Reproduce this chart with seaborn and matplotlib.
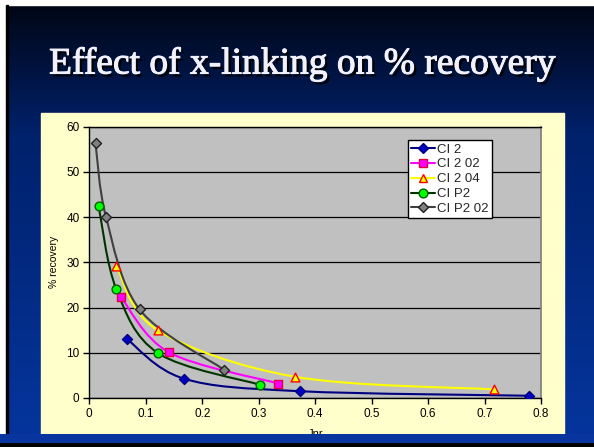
import numpy as np
import pandas as pd
import matplotlib
matplotlib.use("Agg")
import matplotlib.pyplot as plt
import matplotlib.patheffects as pe
from matplotlib.path import Path
from matplotlib.patches import PathPatch, Rectangle
from matplotlib.lines import Line2D
import seaborn as sns

# ---- data ----
series_names = ["CI 2", "CI 2 02", "CI 2 04", "CI P2", "CI P2 02"]
ci2_x = [0.066, 0.167, 0.373, 0.778]
ci2_y = [13.1, 4.3, 1.5, 0.5]
ci202_x = [0.056, 0.141, 0.335]
ci202_y = [22.3, 10.1, 3.2]
ci204_x = [0.048, 0.121, 0.364, 0.717]
ci204_y = [29.1, 15.0, 4.7, 1.9]
cip2_x = [0.0165, 0.048, 0.122, 0.303]
cip2_y = [42.4, 24.0, 9.9, 2.9]
cip202_x = [0.011, 0.0295, 0.089, 0.238]
cip202_y = [56.3, 40.1, 19.6, 6.3]
x_ticks = [0, 0.1, 0.2, 0.3, 0.4, 0.5, 0.6, 0.7, 0.8]
x_tick_labels = ["0", "0.1", "0.2", "0.3", "0.4", "0.5", "0.6", "0.7", "0.8"]
y_ticks = [0, 10, 20, 30, 40, 50, 60]
title = "Effect of x-linking on % recovery"
x_label = "Jnr"
y_label = "% recovery"

xs = [ci2_x, ci202_x, ci204_x, cip2_x, cip202_x]
ys = [ci2_y, ci202_y, ci204_y, cip2_y, cip202_y]
df = pd.concat([pd.DataFrame({"series": n, "Jnr": x, "rec": y})
                for n, x, y in zip(series_names, xs, ys)], ignore_index=True)

styles = {
    "CI 2":     dict(line="#000080", marker="D", face="#0000C0", edge="#000080", s=26),
    "CI 2 02":  dict(line="#FF00FF", marker="s", face="#FF00FF", edge="#E00040", s=38),
    "CI 2 04":  dict(line="#FFFF00", marker="^", face="#FFFF00", edge="#FF0000", s=40),
    "CI P2":    dict(line="#003300", marker="o", face="#00FF00", edge="#006000", s=40),
    "CI P2 02": dict(line="#404040", marker="D", face="#808080", edge="#202020", s=26),
}

sns.set_theme(style="white")
plt.rcParams["font.family"] = ["Liberation Sans", "DejaVu Sans"]

W, H = 594, 447
fig = plt.figure(figsize=(W / 100, H / 100), dpi=100)

# background slide gradient
bg = fig.add_axes([0, 0, 1, 1], zorder=-10)
bg.set_axis_off()
t = np.linspace(0, 1, 256)[:, None]
top = np.array([0.0, 0.02, 0.07])
mid = np.array([0.0, 0.13, 0.42])
bot = np.array([0.02, 0.21, 0.62])
grad = np.where(t < 0.3, top + (mid - top) * (t / 0.3), mid + (bot - mid) * ((t - 0.3) / 0.7))
img = np.repeat(grad[:, None, :], 2, axis=1)
bg.imshow(img, aspect="auto", extent=[0, 1, 0, 1], origin="upper")
bg.set_xlim(0, 1)
bg.set_ylim(0, 1)
# white border strips & dark edges
bg.add_patch(Rectangle((0, 0), 6 / W, 1, color="white", zorder=5))
bg.add_patch(Rectangle((0, 1 - 5 / H), 1, 5 / H, color="white", zorder=5))
bg.add_patch(Rectangle((6 / W, 0), 2 / W, 1 - 5 / H, color="black", zorder=5))
# yellow panel
bg.add_patch(Rectangle((41 / W, 13 / H), 523 / W, 321 / H, color="#FFFFCC", zorder=3))

fig.text(302 / W, 1 - 64 / H, title, ha="center", va="center", color="#F2F2FF",
         fontsize=27, family=["Liberation Serif", "DejaVu Serif"],
         path_effects=[pe.withSimplePatchShadow(offset=(2, -2), shadow_rgbFace="black", alpha=1.0),
                       pe.withStroke(linewidth=0.7, foreground="#F2F2FF")])

ax = fig.add_axes([89.3 / W, 49 / H, 451.7 / W, 271.3 / H])
ax.set_facecolor("#C0C0C0")


def bezier_path(px, py):
    P = np.column_stack([px, py])
    n = len(P)
    verts = [P[0]]
    codes = [Path.MOVETO]
    for i in range(n - 1):
        p0 = P[i - 1] if i > 0 else P[i]
        p1 = P[i]
        p2 = P[i + 1]
        p3 = P[i + 2] if i + 2 < n else P[i + 1]
        c1 = p1 + (p2 - p0) / 6.0
        c2 = p2 - (p3 - p1) / 6.0
        verts += [c1, c2, p2]
        codes += [Path.CURVE4] * 3
    return Path(verts, codes)


handles = []
for name in series_names:
    st = styles[name]
    d = df[df["series"] == name]
    ax.add_patch(PathPatch(bezier_path(d["Jnr"].values, d["rec"].values),
                           facecolor="none", edgecolor=st["line"], lw=1.5, zorder=3))
    sns.scatterplot(data=d, x="Jnr", y="rec", ax=ax, marker=st["marker"],
                    color=st["face"], edgecolor=st["edge"], linewidth=1.0,
                    s=st["s"], zorder=4, legend=False)
    handles.append(Line2D([], [], color=st["line"], lw=1.5, marker=st["marker"],
                          markerfacecolor=st["face"], markeredgecolor=st["edge"],
                          markersize=np.sqrt(st["s"]), label=name))

ax.set_xlim(0, 0.8)
ax.set_ylim(0, 60)
ax.set_xticks(x_ticks)
ax.set_xticklabels(x_tick_labels)
ax.set_yticks(y_ticks)
ax.yaxis.grid(True, color="black", lw=0.9)
ax.xaxis.grid(False)
ax.set_axisbelow(True)
for s in ["left", "bottom", "top"]:
    ax.spines[s].set_color("black")
    ax.spines[s].set_linewidth(1.0)
ax.spines["right"].set_color("#808080")
ax.tick_params(axis="both", direction="out", length=4, width=1, color="black",
               labelsize=8.5, labelcolor="black", pad=3, bottom=True, left=True)
ax.set_xlabel(x_label, fontsize=8, labelpad=7, color="black")
ax.set_ylabel(y_label, fontsize=7.5, labelpad=5, color="black")

leg = ax.legend(handles=handles, loc="upper left", bbox_to_anchor=(0.706, 0.951),
                frameon=True, fancybox=False, edgecolor="black", facecolor="white",
                framealpha=1, fontsize=9.5, handlelength=1.8, handletextpad=0.15,
                borderpad=0.25, labelspacing=0.2, borderaxespad=0)
leg.get_frame().set_linewidth(1.0)

# bottom blue band clipping the x label
fig.patches.append(Rectangle((0, 0), 1, 13 / H, transform=fig.transFigure,
                             facecolor=(0.03, 0.21, 0.62), edgecolor="none", zorder=20))
fig.patches.append(Rectangle((0, 0), 1, 4 / H, transform=fig.transFigure,
                             facecolor="black", edgecolor="none", zorder=21))

fig.savefig("out.png", dpi=100)
